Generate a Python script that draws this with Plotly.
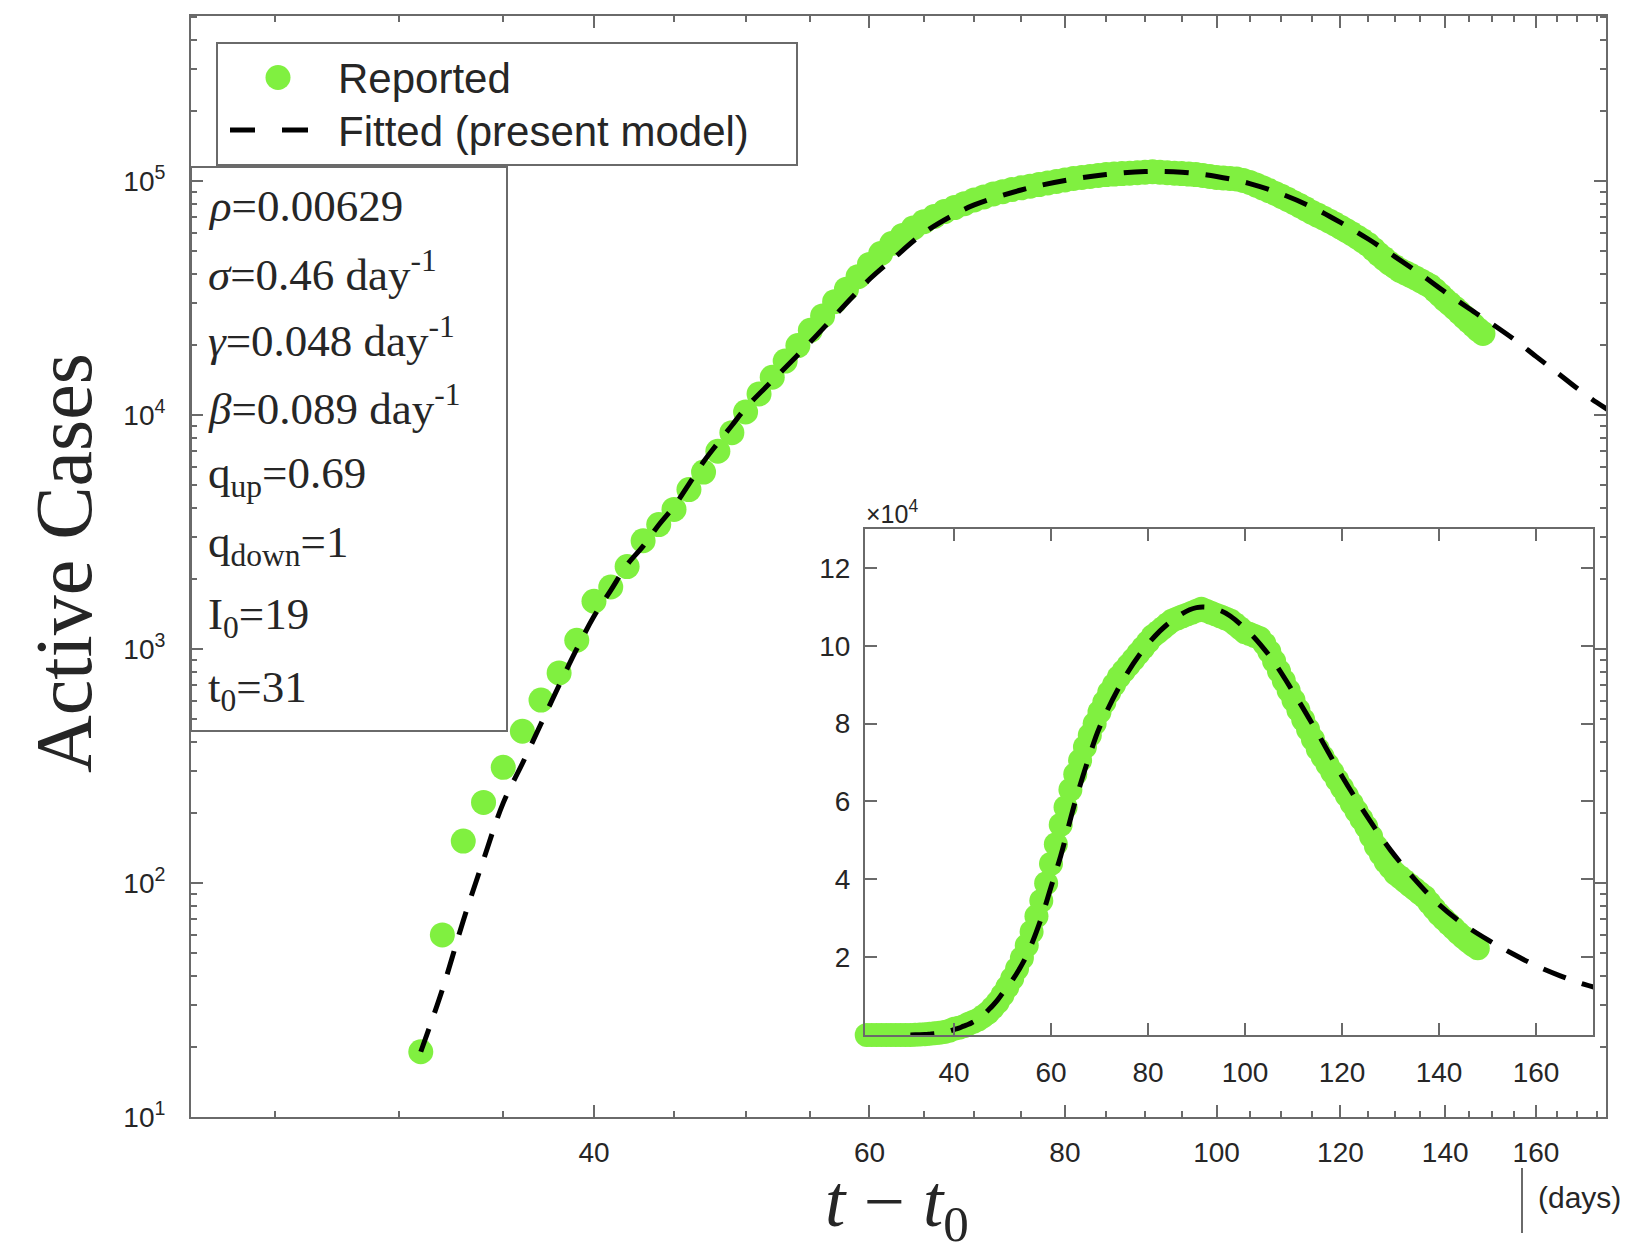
import plotly.graph_objects as go

# ---------------- data ----------------
report_days = list(range(22, 149))
report_cases = [
    0, 0, 0, 0, 0, 0, 0, 0, 0,
    19, 60, 151, 221, 312, 445, 605, 790, 1090, 1600,
    1840, 2250, 2900, 3400, 3950, 4800, 5700, 7000, 8400, 10300,
    12300, 14500, 17000, 19800, 23000, 26500, 30500, 34500, 39000, 44000,
    49000, 54000, 58500, 63000, 67000, 70500, 74000, 77000, 80000, 83000,
    85500, 88000, 90000, 92000, 93500, 95000, 96500, 98000, 99500, 101000,
    102500, 103500, 104500, 105500, 106500, 107000, 107500, 108000, 108500, 109000,
    109500, 109000, 108500, 108000, 107500, 107000, 106500, 105500, 104500, 103500,
    103000, 102500, 102000, 100500, 98500, 96000, 93500, 91000, 88500, 86000,
    83500, 81000, 78500, 76000, 73500, 71500, 69500, 67500, 65500, 63500,
    61500, 59500, 57500, 55500, 53500, 51000, 48500, 46500, 44500, 43000,
    41500, 40500, 39500, 38500, 37500, 36500, 35500, 34000, 32500, 31000,
    29800, 28600, 27400, 26200, 25100, 24100, 23100, 22300,
]

fit_days = [31, 32, 33, 34, 35, 36, 37, 38, 39, 40, 41, 42, 43, 44, 45, 46, 47, 48, 49, 50,
            52, 55, 58, 60, 62, 65, 68, 70, 75, 80, 85, 90, 95, 100, 105, 110, 115, 120,
            125, 130, 135, 140, 145, 150, 155, 160, 165, 170, 175, 178]
fit_cases = [19, 35, 69, 126, 220, 324, 479, 700, 1000, 1380, 1780, 2290, 2750, 3390, 4070,
             5070, 6310, 7590, 9020, 10700, 14000, 20500, 30000, 38000, 46000, 60000, 72000,
             79000, 91500, 100500, 106500, 109800, 109000, 104500, 97500, 88000, 77500,
             66500, 56500, 47500, 40000, 33500, 28500, 24500, 21000, 17800, 15200, 13000,
             11300, 10500]

main_x_ticks = [40, 60, 80, 100, 120, 140, 160]
main_x_minor = [25, 30, 35, 45, 50, 55, 65, 70, 75, 85, 90, 95, 105, 110, 115, 125, 130,
                135, 145, 150, 155, 165, 170, 175]
main_y_ticks = [10, 100, 1000, 10000, 100000]
main_y_labels = ["10<sup>1</sup>", "10<sup>2</sup>", "10<sup>3</sup>", "10<sup>4</sup>", "10<sup>5</sup>"]
main_y_minor = [m * 10 ** e for e in range(1, 6) for m in range(2, 10)]

inset_x_ticks = [40, 60, 80, 100, 120, 140, 160]
inset_y_ticks = [20000, 40000, 60000, 80000, 100000, 120000]
inset_y_labels = ["2", "4", "6", "8", "10", "12"]

param_lines = [
    "<i>ρ</i>=0.00629",
    "<i>σ</i>=0.46 day<sup>-1</sup>",
    "<i>γ</i>=0.048 day<sup>-1</sup>",
    "<i>β</i>=0.089 day<sup>-1</sup>",
    "q<sub>up</sub>=0.69",
    "q<sub>down</sub>=1",
    "I<sub>0</sub>=19",
    "t<sub>0</sub>=31",
]

# ---------------- layout helpers ----------------
W, H = 1634, 1257
ML, MR, MT, MB = 191, 28, 16, 140
PW = W - ML - MR
PH = H - MT - MB


def px(x):
    return (x - ML) / PW


def py(y):
    return (H - MB - y) / PH


GREEN = "#80F040"
AXC = "#6a6a6a"
TXT = "#262626"
SANS = "Liberation Sans, Arial, sans-serif"
SERIF = "Liberation Serif, Times New Roman, serif"

fig = go.Figure()

main_x = [d for d, c in zip(report_days, report_cases) if c > 0]
main_y = [c for c in report_cases if c > 0]

fig.add_trace(go.Scatter(x=main_x, y=main_y, mode="markers",
                         marker=dict(color=GREEN, size=25, line=dict(width=0)),
                         xaxis="x", yaxis="y", showlegend=False))
fig.add_trace(go.Scatter(x=fit_days, y=fit_cases, mode="lines",
                         line=dict(color="black", width=5, dash="24px,17px", shape="spline"),
                         xaxis="x", yaxis="y", showlegend=False))

fig.add_trace(go.Scatter(x=report_days, y=report_cases, mode="markers",
                         marker=dict(color=GREEN, size=24, line=dict(width=0)),
                         xaxis="x2", yaxis="y2", showlegend=False, cliponaxis=False))
fig.add_trace(go.Scatter(x=fit_days, y=fit_cases, mode="lines",
                         line=dict(color="black", width=5, dash="24px,17px", shape="spline"),
                         xaxis="x2", yaxis="y2", showlegend=False))

axis_common = dict(showgrid=False, zeroline=False, showline=True, linecolor=AXC, linewidth=2,
                   ticks="inside", ticklen=12, tickwidth=2, tickcolor=AXC, mirror="ticks",
                   tickfont=dict(family=SANS, size=28, color=TXT))

fig.update_layout(
    width=W, height=H, autosize=False,
    margin=dict(l=ML, r=MR, t=MT, b=MB, pad=0),
    paper_bgcolor="white", plot_bgcolor="white",
    xaxis=dict(type="log", range=[1.3445, 2.2489], domain=[0, 1], anchor="y",
               tickmode="array", tickvals=main_x_ticks, ticktext=[str(v) for v in main_x_ticks],
               ticklabelstandoff=9,
               minor=dict(tickmode="array", tickvals=main_x_minor, ticks="inside", ticklen=6,
                          tickwidth=1.5, tickcolor=AXC, showgrid=False),
               **axis_common),
    yaxis=dict(type="log", range=[1, 5.705], domain=[0, 1], anchor="x",
               tickmode="array", tickvals=main_y_ticks, ticktext=main_y_labels,
               ticklabelstandoff=18,
               minor=dict(tickmode="array", tickvals=main_y_minor, ticks="inside", ticklen=6,
                          tickwidth=1.5, tickcolor=AXC, showgrid=False),
               **axis_common),
    xaxis2=dict(range=[21.65, 171.75], domain=[px(865), px(1593)], anchor="y2",
                tickmode="array", tickvals=inset_x_ticks, ticktext=[str(v) for v in inset_x_ticks],
                ticklabelstandoff=11, **axis_common),
    yaxis2=dict(range=[0, 130000], domain=[py(1035), py(529)], anchor="x2",
                tickmode="array", tickvals=inset_y_ticks, ticktext=inset_y_labels,
                ticklabelstandoff=7, **axis_common),
)

shapes = []
# parameter box
shapes.append(dict(type="rect", xref="paper", yref="paper", x0=0, x1=px(507), y0=py(731), y1=py(167),
                   line=dict(color=AXC, width=2), fillcolor="white", layer="below"))
# legend box
shapes.append(dict(type="rect", xref="paper", yref="paper", x0=px(217), x1=px(797), y0=py(165), y1=py(43),
                   line=dict(color=AXC, width=2), fillcolor="white", layer="below"))
# legend marker
shapes.append(dict(type="circle", xref="paper", yref="paper", x0=px(265.5), x1=px(290.5),
                   y0=py(90), y1=py(65), line=dict(width=0), fillcolor=GREEN))
# legend dashes
for a, b in [(230, 255), (282, 308)]:
    shapes.append(dict(type="line", xref="paper", yref="paper", x0=px(a), x1=px(b), y0=py(130), y1=py(130),
                       line=dict(color="black", width=5)))
# (days) marker line
shapes.append(dict(type="line", xref="paper", yref="paper", x0=px(1522), x1=px(1522), y0=py(1168), y1=py(1233),
                   line=dict(color=AXC, width=2)))
fig.update_layout(shapes=shapes)

ann = []
line_centers = [206, 271, 337, 405, 476, 545, 617, 690]
for txt, yc in zip(param_lines, line_centers):
    ann.append(dict(text=txt, xref="paper", yref="paper", x=px(206), y=py(yc), xanchor="left",
                    yanchor="middle", showarrow=False, font=dict(family=SERIF, size=45, color=TXT)))
ann.append(dict(text="Reported", xref="paper", yref="paper", x=px(336), y=py(78), xanchor="left",
                yanchor="middle", showarrow=False, font=dict(family=SANS, size=42, color=TXT)))
ann.append(dict(text="Fitted (present model)", xref="paper", yref="paper", x=px(336), y=py(131),
                xanchor="left", yanchor="middle", showarrow=False, font=dict(family=SANS, size=42, color=TXT)))
ann.append(dict(text="×10<sup>4</sup>", xref="paper", yref="paper", x=px(864), y=py(512), xanchor="left",
                yanchor="middle", showarrow=False, font=dict(family=SANS, size=25, color=TXT)))
ann.append(dict(text="<i>t</i> − <i>t</i><sub>0</sub>", xref="paper", yref="paper", x=px(897), y=py(1206),
                xanchor="center", yanchor="middle", showarrow=False, font=dict(family=SERIF, size=73, color=TXT)))
ann.append(dict(text="Active Cases", xref="paper", yref="paper", x=px(64), y=py(563), textangle=-90,
                xanchor="center", yanchor="middle", showarrow=False, font=dict(family=SERIF, size=80, color=TXT)))
ann.append(dict(text="(days)", xref="paper", yref="paper", x=px(1536), y=py(1197), xanchor="left",
                yanchor="middle", showarrow=False, font=dict(family=SANS, size=30, color=TXT)))
fig.update_layout(annotations=ann)

fig.write_html("out.html")
